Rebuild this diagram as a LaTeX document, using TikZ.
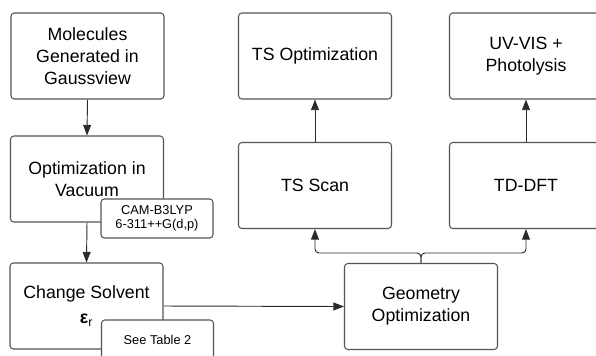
\documentclass[tikz,border=0pt]{standalone}
\usepackage{fontspec}
\setmainfont{Liberation Sans}
\usetikzlibrary{arrows.meta}
\definecolor{linec}{HTML}{2B2B2B}
\definecolor{boxc}{HTML}{555555}
\tikzset{
  bigbox/.style={draw=boxc, line width=0.8pt, rounded corners=2.5pt, fill=white,
    minimum width=114.75pt, minimum height=64.5pt, inner sep=0pt, align=center,
    font=\fontsize{13.3pt}{16.5pt}\selectfont, text=black},
  notebox/.style={draw=boxc, line width=0.8pt, rounded corners=2.5pt, fill=white,
    minimum width=84pt, minimum height=29.25pt, inner sep=0pt, align=center,
    font=\fontsize{9.6pt}{10.5pt}\selectfont, text=black},
  conn/.style={draw=linec, line width=0.7pt},
  arr/.style={conn, -{Triangle[length=8pt,width=6pt]}}
}
\begin{document}
\begin{tikzpicture}[x=0.75pt,y=-0.75pt]
\useasboundingbox (0,0) rectangle (596,355);
\clip (0,0) rectangle (596,355);
\fill[white] (0,0) rectangle (596,355);
% left column
\node[bigbox] (mol) at (87.5,56) {Molecules\\Generated in\\Gaussview};
\node[bigbox] (vac) at (87,179) {Optimization in\\Vacuum};
\node[bigbox] (solv) at (86.5,306) {Change Solvent\\[2pt]{\bfseries ε}\textsubscript{r}};
% middle and right
\node[bigbox] (tsopt) at (315,56) {TS Optimization};
\node[bigbox] (scan) at (315,185.5) {TS Scan};
\node[bigbox] (uv) at (526,56) {UV-VIS +\\Photolysis};
\node[bigbox] (td) at (526,185.5) {TD-DFT};
\node[bigbox] (geo) at (421,306.5) {Geometry\\Optimization};
% connectors
\draw[arr] (mol.south) -- (vac.north);
\draw[arr] (vac.south) -- (solv.north);
\draw[arr] (solv.east) -- (geo.west);
\draw[arr] (scan.north) -- (tsopt.south);
\draw[arr] (td.north) -- (uv.south);
\coordinate (fork) at (421,253);
\draw[arr, rounded corners=3pt] (geo.north) -- (fork) -| (scan.south);
\draw[arr, rounded corners=3pt] (geo.north) -- (fork) -| (td.south);
% note boxes on top
\node[notebox] (cam) at (157,218.5) {CAM-B3LYP\\6-311++G(d,p)};
\node[notebox] (see) at (157.5,339.5) {See Table 2};
\end{tikzpicture}
\end{document}
